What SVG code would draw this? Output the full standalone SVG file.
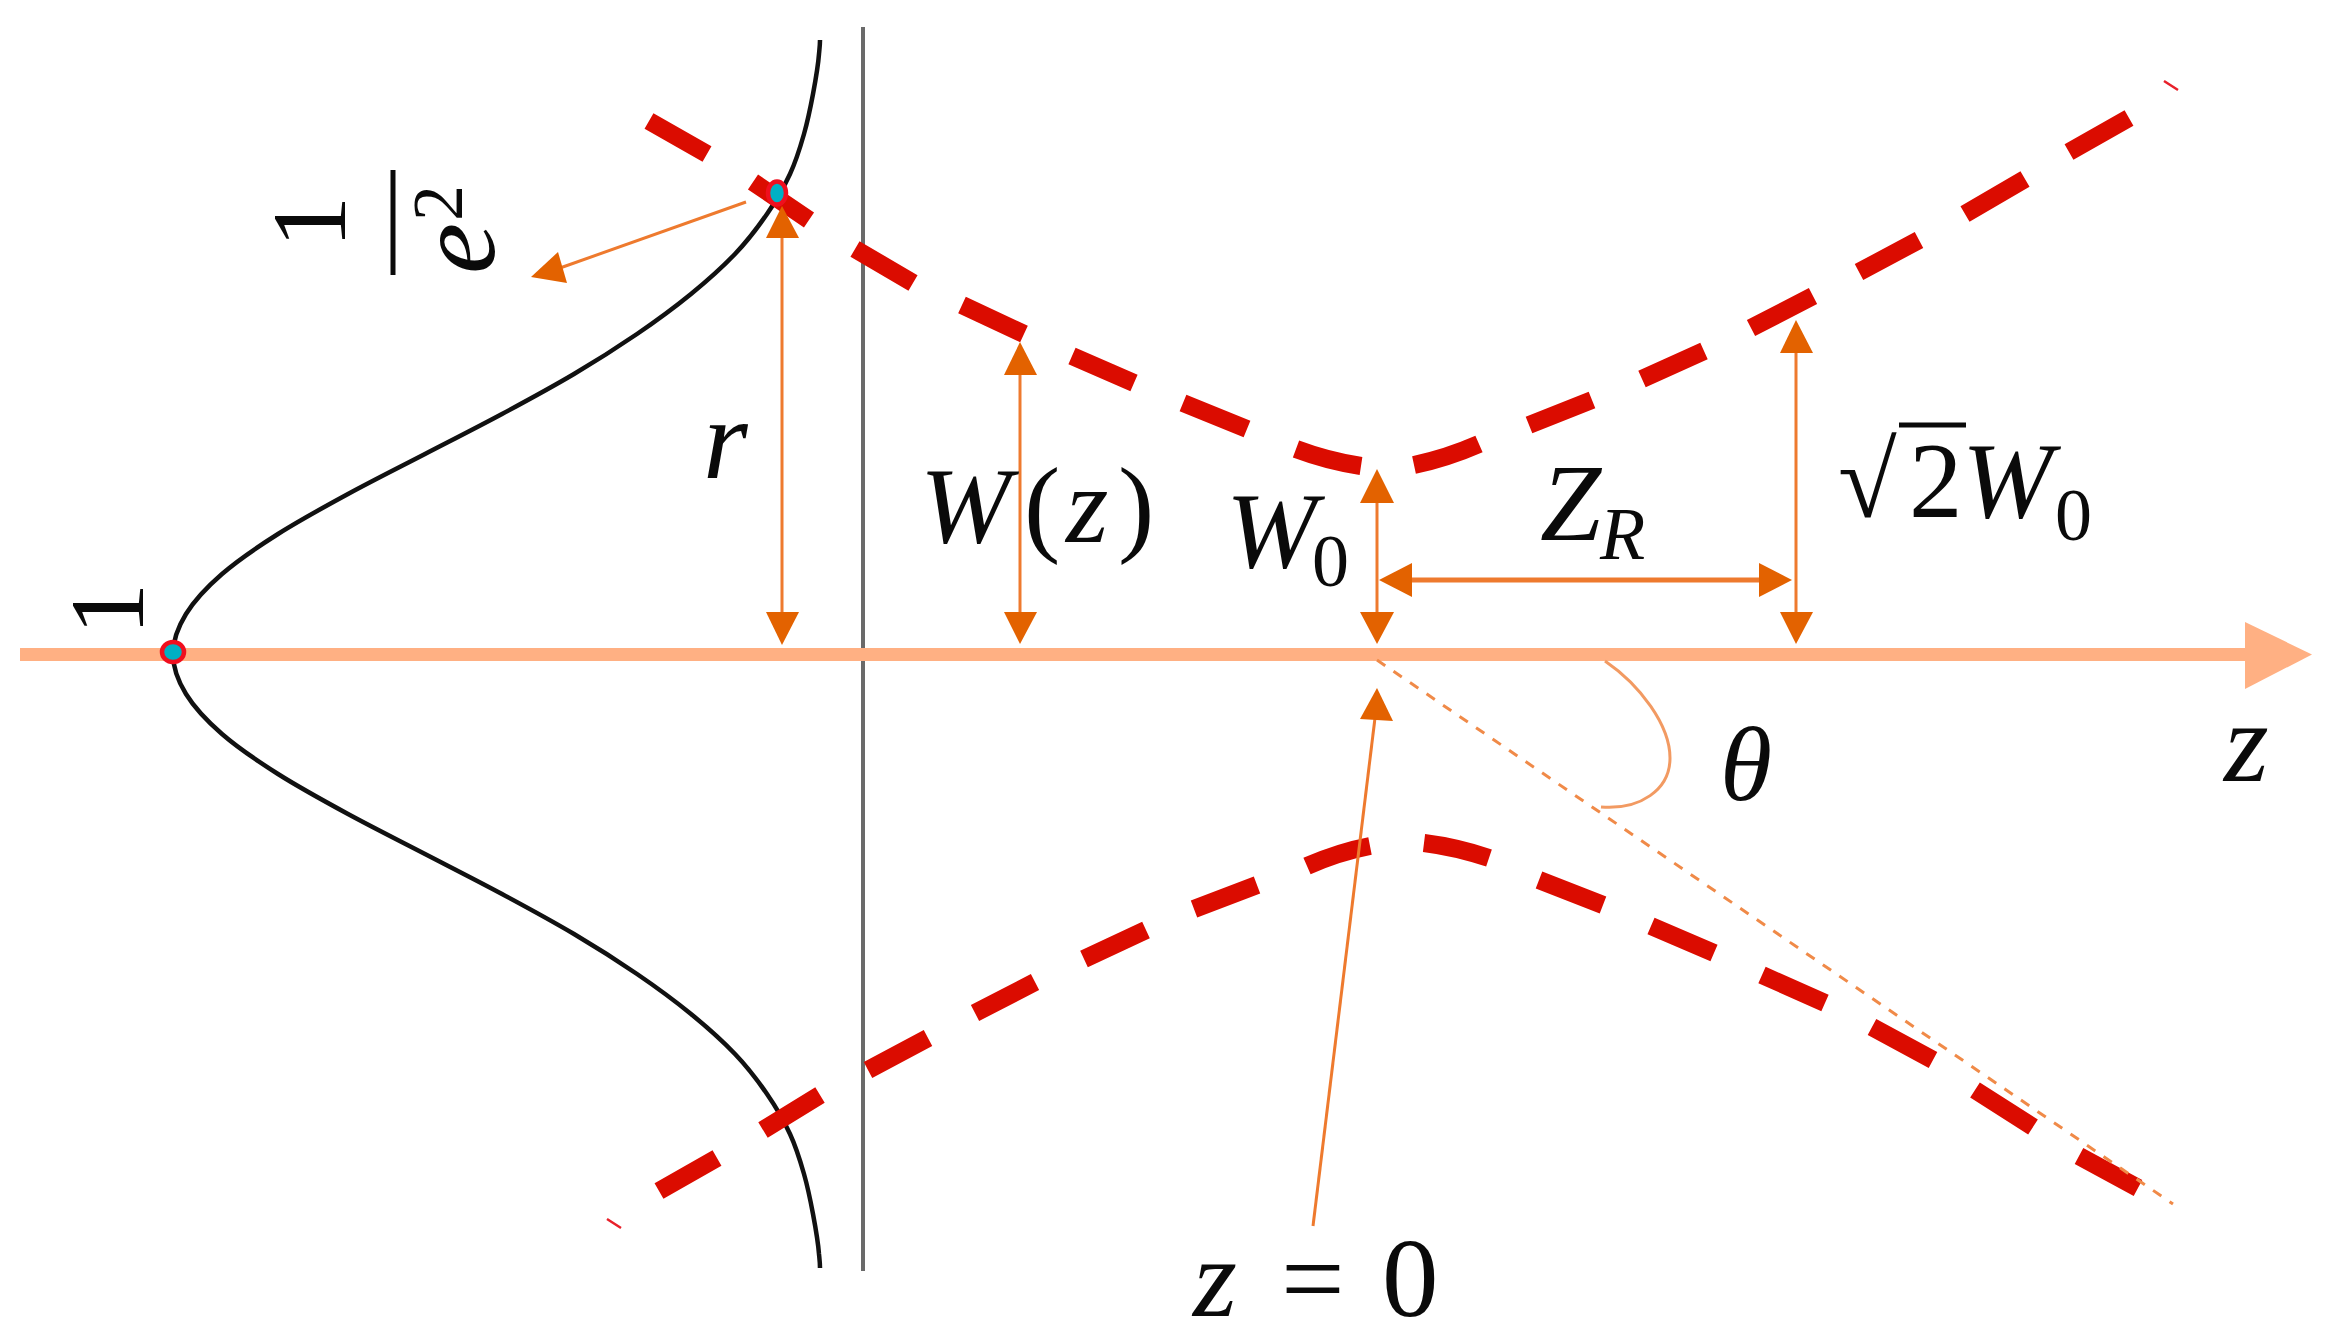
<svg xmlns="http://www.w3.org/2000/svg" xmlns:xlink="http://www.w3.org/1999/xlink" width="2331" height="1342" viewBox="0 0 2331 1342">
<style>
.t{font-family:"Liberation Serif","DejaVu Serif",serif;fill:#0a0a0a}
.i{font-style:italic}
.l{stroke:#EE7A2E;stroke-width:3;fill:none}
.h{fill:#E36200}
.d{stroke:#DB0C00;stroke-width:18;fill:none}
.p{fill:#00B0C4;stroke:#F00F1E;stroke-width:4.5}
.g{fill:none;stroke:#111;stroke-width:4.5}
</style>
<defs>
<path id="half" class="g" d="M173 654C173 640.700 177.800 627.300 186 614C194.200 600.700 206.700 587.300 222 574C237.300 560.700 257 547.300 278 534C299 520.700 323.500 507.300 348 494C372.500 480.700 399.300 467.300 425 454C450.700 440.700 477.200 427.300 502 414C526.800 400.700 551.500 387.300 574 374C596.500 360.700 617.500 347.300 637 334C656.500 320.700 674.700 307.300 691 294C707.300 280.700 722.300 267.300 735 254C747.700 240.700 757.800 227.300 767 214C776.200 200.700 783.800 187.300 790 174C796.200 160.700 800.200 147.300 804 134C807.800 120.700 810.500 107.300 813 94C815.500 80.700 818 67.300 819 54C819.500 49 820 45 820 40"/>
</defs>
<rect width="2331" height="1342" fill="#fff"/>
<g id="gaussian">
<use href="#half" xlink:href="#half"/>
<use href="#half" xlink:href="#half" transform="matrix(1 0 0 -1 0 1308)"/>
<line x1="863" y1="27" x2="863" y2="1271" stroke="#6a6a6a" stroke-width="4"/>
</g>
<g id="beam">
<path class="d" d="M649 121L707 154M753 182L809 220M855 249L913 283M962 305L1024 334M1072 356L1134 383M1183 403L1247 429M1296 449Q1328 461 1361 466M1414 465Q1447 458 1479 444M1529 425L1592 400M1642 379L1704 351M1751 328L1813 296M1859 272L1919 240M1965 214L2025 179M2069 152L2129 118"/>
<path class="d" d="M659 1191L717 1158M763 1130L820 1095M868 1070L928 1038M975 1013L1035 982M1084 959L1146 930M1194 909L1257 885M1307 866Q1339 852 1370 846M1424 843Q1456 847 1489 858M1539 880L1603 905M1651 926L1714 953M1762 975L1825 1003M1872 1027L1933 1060M1975 1090L2033 1127M2079 1156L2138 1188"/>
<path d="M2164 81L2178 90M607 1219L621 1228" stroke="#E8202A" stroke-width="2.500" fill="none"/>
</g>
<g id="connectors">
<line x1="20" y1="654.500" x2="2250" y2="654.500" stroke="#FFB083" stroke-width="13"/>
<polygon points="2245,622 2312,654.500 2245,689" fill="#FFB083"/>
<line class="l" x1="782" y1="235" x2="782" y2="615"/>
<polygon class="h" points="782,206 799,238 766,238"/>
<polygon class="h" points="782,645 799,612 766,612"/>
<line class="l" x1="746" y1="202" x2="560" y2="268"/>
<polygon class="h" points="531,277 558,252 567,283"/>
<line class="l" x1="1020" y1="373" x2="1020" y2="615"/>
<polygon class="h" points="1020,342 1037,375 1004,375"/>
<polygon class="h" points="1020,644 1037,612 1004,612"/>
<line class="l" x1="1377" y1="500" x2="1377" y2="615"/>
<polygon class="h" points="1377,469 1394,503 1360,503"/>
<polygon class="h" points="1377,644 1394,612 1360,612"/>
<line class="l" x1="1796" y1="350" x2="1796" y2="615"/>
<polygon class="h" points="1796,320 1813,353 1780,353"/>
<polygon class="h" points="1796,644 1813,612 1780,612"/>
<line class="l" x1="1410" y1="580" x2="1762" y2="580" style="stroke-width:5"/>
<polygon class="h" points="1379,580 1412,563 1412,597"/>
<polygon class="h" points="1792,580 1759,563 1759,597"/>
<line class="l" x1="1375" y1="718" x2="1313" y2="1226"/>
<polygon class="h" points="1377,688 1393,721 1360,719"/>
<line x1="1377" y1="660" x2="2173" y2="1204" stroke="#F08A48" stroke-width="3" stroke-dasharray="10 10"/>
<path d="M1605 661C1640 685 1670 725 1670 758C1670 790 1640 810 1601 807" fill="none" stroke="#F29A62" stroke-width="3"/>
</g>
<g id="point-peak"><ellipse class="p" cx="173" cy="652" rx="11" ry="10"/></g>
<g id="point-edge"><ellipse class="p" cx="777" cy="193" rx="9" ry="11.500"/></g>
<g id="label-one"><text class="t" font-size="105" text-anchor="middle" transform="translate(143,609) rotate(-90)">1</text></g>
<g id="label-fraction">
<text class="t" font-size="105" text-anchor="middle" transform="translate(345,222) rotate(-90)">1</text>
<line x1="393" y1="170" x2="393" y2="275" stroke="#0a0a0a" stroke-width="5"/>
<text class="t" transform="translate(494,274) rotate(-90)"><tspan class="i" font-size="115">e</tspan><tspan font-size="72" dy="-32" dx="2">2</tspan></text>
</g>
<g id="label-r"><text class="t i" font-size="115" x="703" y="478">r</text></g>
<g id="label-wz"><text class="t" font-size="109" y="542"><tspan class="i" x="920">W</tspan><tspan x="1024">(</tspan><tspan class="i" x="1066">z</tspan><tspan x="1118">)</tspan></text></g>
<g id="label-w0"><text class="t" x="1226" y="567"><tspan class="i" font-size="109">W</tspan><tspan font-size="74" x="1312" y="586">0</tspan></text></g>
<g id="label-zr"><text class="t i" x="1540" y="540"><tspan font-size="110">Z</tspan><tspan font-size="74" x="1600" y="559">R</tspan></text></g>
<g id="label-sqrt">
<text class="t" x="1838" y="517"><tspan font-size="107">√</tspan><tspan font-size="107" x="1909">2</tspan><tspan class="i" font-size="109" x="1962">W</tspan><tspan font-size="74" x="2055" y="540">0</tspan></text>
<line x1="1899" y1="425" x2="1966" y2="425" stroke="#0a0a0a" stroke-width="5"/>
</g>
<g id="label-theta"><text class="t i" font-size="106" x="1720" y="800">θ</text></g>
<g id="label-z"><text class="t i" font-size="115" x="2224" y="781">z</text></g>
<g id="label-z0"><text class="t" y="1316" font-size="113"><tspan class="i" x="1193">z</tspan><tspan x="1281">=</tspan><tspan x="1382">0</tspan></text></g>
</svg>
